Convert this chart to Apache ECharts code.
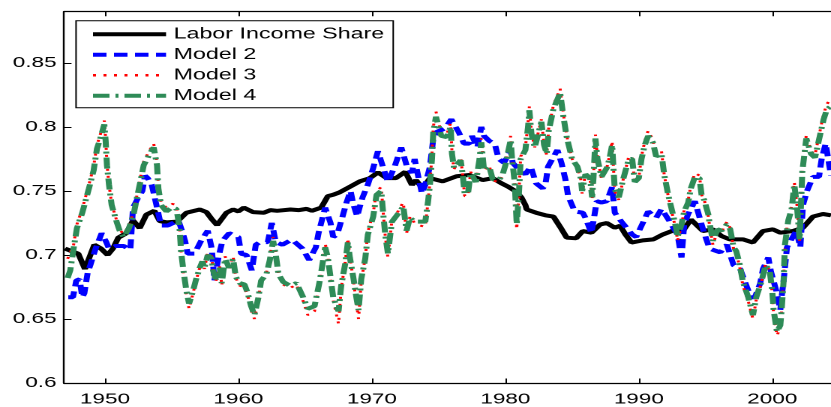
<!DOCTYPE html>
<html>
<head>
<meta charset="utf-8">
<script src="https://cdn.jsdelivr.net/npm/echarts@6/dist/echarts.min.js"></script>
<style>
html,body{margin:0;padding:0;background:#fff;overflow:hidden;}
#chart{width:554px;height:407px;transform:scaleX(1.5);transform-origin:0 0;}
</style>
</head>
<body>
<div id="chart"></div>
<script>
// Tick labels
const xTicks = [1950, 1960, 1970, 1980, 1990, 2000];
const xTickLabels = ['1950', '1960', '1970', '1980', '1990', '2000'];
const yTicks = [0.6, 0.65, 0.7, 0.75, 0.8, 0.85];
const yTickLabels = ['0.6', '0.65', '0.7', '0.75', '0.8', '0.85'];

// Labor Income Share
const laborYears = [1947.0,1947.5,1948.0,1948.5,1949.2,1949.7,1950.2,1950.6,1951.0,1951.6,1952.1,1952.6,1953.1,1953.7,1954.1,1954.6,1955.4,1956.1,1957.1,1957.6,1958.0,1958.4,1959.1,1959.6,1960.0,1960.4,1961.1,1961.9,1962.4,1962.9,1963.9,1964.5,1965.1,1965.5,1966.2,1966.7,1967.1,1967.6,1968.4,1969.1,1969.85,1970.45,1971.1,1971.8,1972.5,1973.0,1973.3,1973.8,1974.35,1975.3,1976.35,1977.3,1978.3,1979.05,1979.7,1980.2,1980.8,1981.2,1981.5,1981.6,1982.3,1983.0,1983.6,1984.1,1984.6,1985.3,1985.8,1986.45,1987.1,1987.6,1988.2,1988.6,1989.0,1989.45,1990.3,1991.1,1991.8,1992.8,1993.3,1993.9,1994.8,1995.55,1996.2,1996.8,1997.8,1998.55,1999.3,2000.05,2000.6,2001.55,2002.3,2003.05,2003.8,2004.4];
const laborValues = [0.705,0.703,0.701,0.689,0.708,0.705,0.700,0.705,0.7135,0.717,0.727,0.721,0.7315,0.7345,0.7265,0.7255,0.726,0.733,0.7355,0.7335,0.728,0.7233,0.733,0.7355,0.734,0.737,0.7335,0.733,0.735,0.7345,0.7355,0.735,0.736,0.7345,0.737,0.746,0.747,0.749,0.7535,0.7575,0.760,0.7645,0.760,0.760,0.765,0.7547,0.7585,0.752,0.760,0.7575,0.7615,0.7625,0.7585,0.760,0.756,0.7534,0.7496,0.745,0.739,0.7355,0.733,0.731,0.730,0.722,0.7135,0.713,0.7187,0.7174,0.7238,0.725,0.7213,0.7228,0.716,0.7097,0.7114,0.7122,0.716,0.720,0.7187,0.7277,0.7187,0.720,0.7148,0.7122,0.7122,0.7097,0.7187,0.720,0.7174,0.7187,0.7213,0.730,0.732,0.731];

// Model 2
const model2Years = [1947.25,1947.6,1947.85,1948.1,1948.3,1948.45,1948.7,1948.9,1949.3,1949.75,1950.1,1950.3,1950.8,1951.4,1951.9,1952.1,1952.5,1952.8,1953.0,1953.2,1953.5,1953.9,1954.2,1954.7,1955.1,1955.5,1955.8,1956.0,1956.2,1956.7,1957.2,1957.7,1958.0,1958.2,1958.5,1958.8,1959.3,1960.0,1960.2,1960.6,1961.0,1961.3,1961.6,1962.2,1962.5,1962.8,1963.3,1964.0,1964.8,1965.3,1965.8,1966.0,1966.5,1966.9,1967.1,1967.4,1967.8,1968.1,1968.4,1968.6,1968.9,1969.1,1969.3,1969.7,1970.1,1970.45,1970.7,1971.2,1971.7,1972.2,1972.6,1973.0,1973.2,1973.5,1973.75,1974.0,1974.35,1974.6,1974.85,1975.5,1975.95,1976.5,1976.9,1977.3,1977.5,1977.9,1978.2,1978.4,1978.8,1979.2,1979.5,1979.9,1980.4,1980.55,1980.9,1981.5,1981.9,1982.3,1982.8,1983.0,1983.2,1983.9,1984.2,1984.5,1984.7,1985.2,1985.8,1986.0,1986.45,1986.85,1987.2,1987.6,1988.0,1988.2,1988.7,1989.5,1989.8,1990.3,1990.7,1991.3,1991.7,1992.2,1992.6,1992.9,1993.2,1993.4,1993.7,1994.2,1994.7,1994.9,1995.3,1996.1,1996.6,1997.1,1997.6,1998.1,1998.4,1998.7,1999.1,1999.3,1999.7,1999.9,2000.3,2000.6,2000.7,2000.85,2001.1,2001.3,2001.8,2002.1,2002.3,2002.6,2003.05,2003.5,2003.7,2004.0,2004.4];
const model2Values = [0.667,0.667,0.680,0.681,0.667,0.670,0.686,0.692,0.705,0.717,0.710,0.705,0.707,0.707,0.704,0.737,0.745,0.750,0.762,0.760,0.755,0.737,0.723,0.723,0.725,0.727,0.718,0.711,0.701,0.701,0.711,0.719,0.705,0.680,0.698,0.711,0.717,0.714,0.701,0.700,0.688,0.708,0.710,0.710,0.725,0.710,0.708,0.712,0.705,0.696,0.706,0.717,0.737,0.725,0.714,0.716,0.730,0.741,0.750,0.740,0.730,0.738,0.745,0.755,0.768,0.781,0.773,0.757,0.769,0.784,0.770,0.764,0.775,0.760,0.748,0.755,0.769,0.791,0.796,0.799,0.806,0.796,0.787,0.787,0.793,0.784,0.800,0.793,0.789,0.787,0.775,0.772,0.782,0.772,0.768,0.763,0.769,0.756,0.752,0.755,0.769,0.782,0.772,0.759,0.746,0.734,0.733,0.729,0.717,0.742,0.741,0.742,0.753,0.733,0.726,0.716,0.714,0.725,0.734,0.729,0.736,0.728,0.721,0.716,0.698,0.724,0.732,0.742,0.724,0.717,0.705,0.702,0.708,0.692,0.689,0.675,0.667,0.667,0.678,0.689,0.698,0.687,0.672,0.657,0.667,0.680,0.706,0.706,0.719,0.706,0.739,0.750,0.761,0.761,0.775,0.787,0.762];

// Models 3 and 4 share the same sampling dates
const model34Years = [1947.2,1947.4,1947.65,1947.9,1948.3,1948.8,1949.15,1949.4,1949.65,1949.95,1950.05,1950.15,1950.3,1950.5,1950.9,1951.1,1951.4,1951.8,1952.15,1952.4,1952.65,1952.9,1953.3,1953.65,1953.9,1954.0,1954.2,1954.6,1955.0,1955.35,1955.5,1955.6,1955.7,1955.85,1956.1,1956.3,1956.6,1956.8,1957.1,1957.3,1957.45,1957.7,1958.0,1958.1,1958.3,1958.6,1958.75,1959.0,1959.3,1959.6,1959.8,1960.1,1960.45,1960.7,1960.95,1961.2,1961.35,1961.5,1961.7,1962.1,1962.35,1962.6,1962.8,1963.0,1963.35,1963.85,1964.35,1964.85,1965.2,1965.7,1966.1,1966.5,1966.7,1967.1,1967.5,1967.7,1968.0,1968.2,1968.35,1968.6,1968.85,1969.0,1969.2,1969.5,1969.7,1970.1,1970.35,1970.7,1970.85,1971.0,1971.2,1971.5,1971.7,1972.1,1972.35,1972.6,1972.85,1973.2,1973.6,1974.0,1974.2,1974.35,1974.5,1974.6,1974.8,1975.2,1975.6,1975.9,1976.0,1976.15,1976.65,1976.8,1976.95,1977.2,1977.4,1977.8,1978.05,1978.2,1978.4,1978.8,1979.05,1979.55,1979.8,1980.0,1980.4,1980.5,1980.7,1980.85,1981.0,1981.15,1981.5,1981.7,1981.8,1981.95,1982.2,1982.7,1982.9,1983.1,1983.25,1983.6,1984.0,1984.1,1984.35,1984.6,1985.0,1985.4,1985.65,1985.75,1986.0,1986.35,1986.5,1986.6,1986.75,1986.9,1987.2,1987.6,1987.8,1988.0,1988.1,1988.2,1988.5,1988.85,1989.25,1989.5,1989.7,1990.0,1990.2,1990.45,1990.7,1991.05,1991.3,1991.7,1991.9,1992.2,1992.55,1992.8,1992.9,1993.2,1993.4,1993.7,1993.9,1994.2,1994.55,1994.7,1994.9,1995.2,1995.3,1995.55,1995.9,1996.2,1996.6,1996.85,1997.1,1997.3,1997.55,1997.8,1998.2,1998.55,1998.8,1999.15,1999.5,1999.8,2000.0,2000.1,2000.35,2000.6,2000.7,2000.85,2000.95,2001.2,2001.45,2001.65,2001.85,2002.05,2002.25,2002.55,2002.9,2003.2,2003.5,2003.85,2004.1,2004.4];

const model4Values = [0.682,0.688,0.705,0.721,0.733,0.752,0.766,0.783,0.791,0.802,0.789,0.770,0.755,0.739,0.725,0.719,0.714,0.721,0.732,0.745,0.757,0.770,0.778,0.784,0.770,0.752,0.739,0.734,0.737,0.736,0.727,0.719,0.703,0.690,0.672,0.662,0.672,0.680,0.690,0.695,0.690,0.700,0.697,0.688,0.681,0.690,0.678,0.697,0.690,0.697,0.683,0.678,0.677,0.670,0.660,0.653,0.660,0.667,0.680,0.685,0.696,0.711,0.700,0.685,0.679,0.676,0.678,0.667,0.658,0.660,0.680,0.706,0.698,0.667,0.656,0.676,0.693,0.710,0.698,0.683,0.666,0.657,0.681,0.697,0.716,0.730,0.747,0.750,0.732,0.716,0.701,0.726,0.727,0.734,0.738,0.719,0.729,0.726,0.726,0.726,0.741,0.755,0.775,0.796,0.808,0.793,0.792,0.800,0.779,0.768,0.774,0.763,0.748,0.748,0.764,0.757,0.774,0.788,0.766,0.769,0.759,0.759,0.763,0.770,0.790,0.775,0.757,0.724,0.745,0.775,0.782,0.800,0.813,0.795,0.784,0.804,0.786,0.779,0.797,0.814,0.824,0.827,0.808,0.792,0.775,0.769,0.760,0.750,0.763,0.760,0.745,0.760,0.791,0.775,0.761,0.768,0.775,0.786,0.768,0.751,0.745,0.760,0.775,0.775,0.757,0.760,0.775,0.786,0.793,0.788,0.777,0.779,0.763,0.747,0.732,0.721,0.714,0.724,0.734,0.741,0.752,0.761,0.760,0.747,0.743,0.732,0.725,0.711,0.720,0.719,0.724,0.720,0.706,0.703,0.693,0.679,0.667,0.653,0.667,0.678,0.692,0.688,0.672,0.657,0.640,0.645,0.657,0.680,0.708,0.727,0.736,0.755,0.738,0.712,0.765,0.791,0.779,0.776,0.790,0.806,0.814,0.816];

const model3Values = [0.697,0.696,0.708,0.724,0.736,0.755,0.769,0.786,0.794,0.805,0.791,0.771,0.755,0.740,0.726,0.720,0.716,0.723,0.734,0.747,0.760,0.773,0.781,0.787,0.772,0.753,0.741,0.737,0.740,0.739,0.729,0.720,0.703,0.688,0.669,0.658,0.670,0.679,0.690,0.697,0.689,0.702,0.699,0.687,0.679,0.691,0.676,0.699,0.689,0.699,0.682,0.676,0.675,0.668,0.657,0.650,0.658,0.666,0.681,0.686,0.698,0.714,0.701,0.684,0.677,0.674,0.677,0.664,0.653,0.656,0.680,0.709,0.699,0.665,0.646,0.674,0.694,0.713,0.699,0.681,0.662,0.650,0.679,0.698,0.718,0.733,0.750,0.753,0.733,0.715,0.698,0.727,0.729,0.737,0.741,0.717,0.730,0.725,0.723,0.722,0.741,0.757,0.778,0.800,0.812,0.795,0.794,0.803,0.780,0.767,0.776,0.763,0.746,0.746,0.765,0.756,0.776,0.791,0.766,0.770,0.758,0.757,0.763,0.772,0.793,0.776,0.755,0.720,0.744,0.777,0.784,0.803,0.816,0.796,0.784,0.806,0.786,0.778,0.799,0.817,0.827,0.830,0.810,0.793,0.775,0.768,0.759,0.748,0.763,0.759,0.743,0.760,0.794,0.776,0.760,0.768,0.777,0.789,0.768,0.750,0.743,0.760,0.777,0.777,0.756,0.760,0.777,0.789,0.797,0.790,0.777,0.781,0.763,0.746,0.730,0.719,0.711,0.723,0.735,0.743,0.754,0.764,0.762,0.747,0.743,0.731,0.723,0.708,0.719,0.718,0.726,0.721,0.705,0.702,0.691,0.676,0.664,0.650,0.665,0.677,0.693,0.688,0.670,0.654,0.637,0.643,0.656,0.680,0.710,0.729,0.738,0.757,0.739,0.711,0.767,0.794,0.781,0.778,0.793,0.810,0.818,0.822];

function pairs(xs, ys) { return xs.map((x, i) => [x, ys[i]]); }

const FONT = '"Liberation Sans", Arial, Helvetica, sans-serif';
const chart = echarts.init(document.getElementById('chart'), null, {renderer: 'canvas', devicePixelRatio: 2});

const laborStyle = {color: '#000', width: 4, type: 'solid'};
const m2Style = {color: '#0000ff', width: 4, type: [9, 5], cap: 'butt'};
const m3Style = {color: '#ff0000', width: 2, type: [2, 5], cap: 'butt'};
const m4Style = {color: '#2e8b57', width: 4, type: [11, 4, 2, 4], cap: 'butt'};
const hiddenSymbol = {opacity: 0, color: 'transparent', borderColor: 'transparent', borderWidth: 0};

const axisLineStyle = {color: '#000', width: 1.2};
chart.setOption({
  animation: false,
  backgroundColor: '#fff',
  grid: {left: 42.67, top: 11.7, right: 0, bottom: 20, show: false},
  legend: {
    orient: 'vertical',
    left: 50.7,
    top: 20.7,
    itemWidth: 48.7,
    itemHeight: 14,
    itemGap: 4.5,
    padding: [5.6, 6, 4, 9.3],
    borderColor: '#000',
    borderWidth: 1,
    backgroundColor: '#fff',
    itemStyle: hiddenSymbol,
    textStyle: {color: '#000', fontSize: 15.5, fontFamily: FONT},
    data: [
      {name: 'Labor Income Share', lineStyle: laborStyle, itemStyle: hiddenSymbol},
      {name: 'Model 2', lineStyle: m2Style, itemStyle: hiddenSymbol},
      {name: 'Model 3', lineStyle: {color: '#ff0000', width: 2.5, type: [2, 5], cap: 'butt'}, itemStyle: hiddenSymbol},
      {name: 'Model 4', lineStyle: m4Style, itemStyle: hiddenSymbol}
    ]
  },
  xAxis: [{
    type: 'value',
    min: 1946.93,
    max: 2004.4,
    position: 'bottom',
    axisLine: {show: true, onZero: false, lineStyle: axisLineStyle},
    axisTick: {show: true, inside: true, length: 4.5, customValues: xTicks, lineStyle: {color: '#000', width: 1}},
    axisLabel: {
      customValues: xTicks, color: '#000', fontSize: 15, fontFamily: FONT, margin: 9,
      formatter: v => { const i = xTicks.indexOf(v); return i >= 0 ? xTickLabels[i] : ''; }
    },
    splitLine: {show: false}
  }, {
    type: 'value',
    min: 1946.93,
    max: 2004.4,
    position: 'top',
    axisLine: {show: true, onZero: false, lineStyle: axisLineStyle},
    axisTick: {show: true, inside: true, length: 4.5, customValues: xTicks, lineStyle: {color: '#000', width: 1}},
    axisLabel: {show: false},
    splitLine: {show: false}
  }],
  yAxis: {
    type: 'value',
    min: 0.6,
    max: 0.89,
    axisLine: {show: true, onZero: false, lineStyle: axisLineStyle},
    axisTick: {show: true, inside: true, length: 5, customValues: yTicks, lineStyle: {color: '#000', width: 1}},
    axisLabel: {
      customValues: yTicks, color: '#000', fontSize: 15, fontFamily: FONT, margin: 5,
      formatter: v => { const i = yTicks.findIndex(t => Math.abs(t - v) < 1e-9); return i >= 0 ? yTickLabels[i] : ''; }
    },
    splitLine: {show: false}
  },
  series: [{
    name: 'Labor Income Share', type: 'line', symbol: 'none', showSymbol: false,
    data: pairs(laborYears, laborValues),
    lineStyle: laborStyle,
    itemStyle: {color: '#000'}
  }, {
    name: 'Model 2', type: 'line', symbol: 'none', showSymbol: false,
    data: pairs(model2Years, model2Values),
    lineStyle: m2Style,
    itemStyle: {color: '#0000ff'}
  }, {
    name: 'Model 3', type: 'line', symbol: 'none', showSymbol: false,
    data: pairs(model34Years, model3Values),
    lineStyle: m3Style,
    itemStyle: {color: '#ff0000'}
  }, {
    name: 'Model 4', type: 'line', symbol: 'none', showSymbol: false,
    data: pairs(model34Years, model4Values),
    lineStyle: m4Style,
    itemStyle: {color: '#2e8b57'}
  }]
});
</script>
</body>
</html>
